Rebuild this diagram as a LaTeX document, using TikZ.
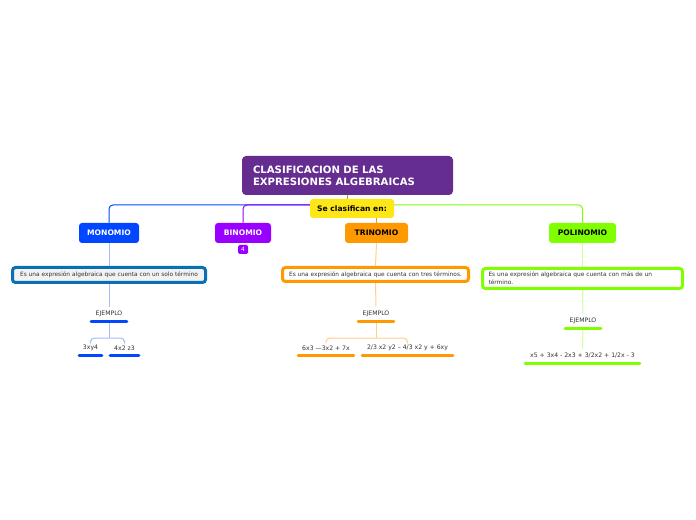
\documentclass[tikz,border=0pt]{standalone}
\usepackage{fontspec}
\setmainfont{DejaVu Sans}
\newcommand{\pxl}{0.75pt}
\definecolor{titleC}{HTML}{662D91}
\definecolor{yelC}{HTML}{FFE617}
\definecolor{monoC}{HTML}{0047FF}
\definecolor{binoC}{HTML}{9900FF}
\definecolor{trinoC}{HTML}{FF9900}
\definecolor{poliC}{HTML}{80FF00}
\definecolor{monoL}{HTML}{A3BBFF}
\definecolor{trinoL}{HTML}{FFD08A}
\definecolor{poliL}{HTML}{CCFF99}
\definecolor{descmB}{HTML}{0A6FB5}
\definecolor{descmF}{HTML}{F2F2F2}
\definecolor{txt}{HTML}{333333}
\definecolor{oliveC}{HTML}{8FB31A}
\begin{document}
\begin{tikzpicture}[x=0.75pt,y=-0.75pt,
  cat/.style={inner sep=0pt, rounded corners=3*\pxl, minimum height=20*\pxl,
    font=\fontsize{5.7pt}{7pt}\selectfont\bfseries},
  descbox/.style={draw, line width=3*\pxl, rounded corners=3*\pxl, inner sep=0pt,
    fill=white, text=txt, font=\fontsize{4.4pt}{6.2pt}\selectfont},
  exnode/.style={inner sep=0pt, minimum height=14*\pxl, text=txt,
    font=\fontsize{4.6pt}{5.5pt}\selectfont},
  bar/.style={line width=3*\pxl, line cap=round},
  conn/.style={line width=1*\pxl},
  turn/.style={conn, rounded corners=4*\pxl}
]
\useasboundingbox (0,0) rectangle (696,520);
\fill[white] (0,0) rectangle (696,520);

% coordinates for the top distribution lines
\coordinate (scL) at (312,205);
\coordinate (scR) at (392,205);

% nodes
\node[fill=titleC, text=white, rounded corners=4*\pxl, inner ysep=0pt, inner xsep=11*\pxl,
  minimum height=39*\pxl, text width=189*\pxl, align=left,
  font=\fontsize{7.6pt}{9pt}\selectfont\bfseries] (title) at (347.5,175.5)
  {CLASIFICACION DE LAS\\EXPRESIONES ALGEBRAICAS};

\node[cat, fill=monoC, text=white, minimum width=60*\pxl] (mono) at (109,233) {MONOMIO};
\node[cat, fill=binoC, text=white, minimum width=56*\pxl] (bino) at (243,233) {BINOMIO};
\node[cat, fill=trinoC, text=black, minimum width=63*\pxl] (trino) at (376.5,233) {TRINOMIO};
\node[cat, fill=poliC, text=black, minimum width=67*\pxl] (poli) at (582.5,233) {POLINOMIO};

% top lines (drawn under the yellow box)
\draw[turn, monoC] (scL) -| (mono.north);
\draw[turn, binoC] (scL) -| (bino.north);
\draw[turn, poliC] (scR) -| (poli.north);

\node[fill=yelC, rounded corners=3*\pxl, inner sep=0pt, minimum width=84*\pxl,
  minimum height=19*\pxl, font=\fontsize{5.7pt}{7pt}\selectfont\bfseries] (sc) at (352,208.5)
  {Se clasifican en:};

\draw[conn, oliveC] (title.south) -- (title.south |- sc.north);
\draw[conn, trinoC] (sc.south -| trino.north) -- (trino.north);

\node[fill=binoC, text=white, rounded corners=1.5*\pxl, inner sep=0pt,
  minimum width=10*\pxl, minimum height=9*\pxl, font=\fontsize{4.4pt}{5pt}\selectfont] (badge) at (243,249.5) {4};

% description boxes
\node[descbox, draw=descmB, fill=descmF, minimum width=193*\pxl, minimum height=15*\pxl] (descm) at (109,275)
  {Es una expresión algebraica que cuenta con un solo término};
\node[descbox, draw=trinoC, minimum width=186*\pxl, minimum height=14*\pxl] (desct) at (375.5,274.5)
  {Es una expresión algebraica que cuenta con tres términos.};
\node[descbox, draw=poliC, minimum width=200*\pxl, minimum height=20*\pxl, inner xsep=6*\pxl,
  text width=188*\pxl, align=left] (descp) at (582.5,278.5)
  {Es una expresión algebraica que cuenta con más de un\\término.};

% example nodes
\node[exnode, minimum width=35*\pxl] (ejm) at (109,314) {EJEMPLO};
\node[exnode, minimum width=22*\pxl] (m1) at (90.5,348) {3xy4};
\node[exnode, minimum width=28*\pxl] (m2) at (124.5,348) {4x2 z3};

\node[exnode, minimum width=35*\pxl] (ejt) at (376,314) {EJEMPLO};
\node[exnode, minimum width=55*\pxl] (t1) at (326,348) {6x3 —3x2 + 7x};
\node[exnode, minimum width=90*\pxl] (t2) at (407.5,348) {2/3 x2 y2 – 4/3 x2 y + 6xy};

\node[exnode, minimum width=35*\pxl] (ejp) at (583,321) {EJEMPLO};
\node[exnode, minimum width=114*\pxl] (p1) at (582.5,356) {x5 + 3x4 - 2x3 + 3/2x2 + 1/2x - 3};

% bars
\draw[bar, monoC] (ejm.south west) -- (ejm.south east);
\draw[bar, monoC] (m1.south west) -- (m1.south east);
\draw[bar, monoC] (m2.south west) -- (m2.south east);
\draw[bar, trinoC] (ejt.south west) -- (ejt.south east);
\draw[bar, trinoC] (t1.south west) -- (t1.south east);
\draw[bar, trinoC] (t2.south west) -- (t2.south east);
\draw[bar, poliC] (ejp.south west) -- (ejp.south east);
\draw[bar, poliC] (p1.south west) -- (p1.south east);

% vertical connectors
\draw[conn, monoL] (mono.south) -- (descm.north);
\draw[conn, monoL] (descm.south) -- (ejm.north);
\draw[conn, trinoL] (trino.south) -- (desct.north);
\draw[conn, trinoL] (desct.south) -- (ejt.north);
\draw[conn, poliL] (poli.south) -- (descp.north);
\draw[conn, poliL] (descp.south) -- (ejp.north);
\draw[conn, poliL] ([yshift=-1.5*\pxl]ejp.south) -- (p1.north);

% brackets
\coordinate (bm) at (109,338);
\draw[conn, monoL] ([yshift=-1.5*\pxl]ejm.south) -- (bm);
\draw[turn, monoL] (m1.north) |- (bm) -| (m2.north);
\coordinate (bt) at (376,338);
\draw[conn, trinoL] ([yshift=-1.5*\pxl]ejt.south) -- (bt);
\draw[turn, trinoL] (t1.north) |- (bt) -| (t2.north);
\end{tikzpicture}
\end{document}
